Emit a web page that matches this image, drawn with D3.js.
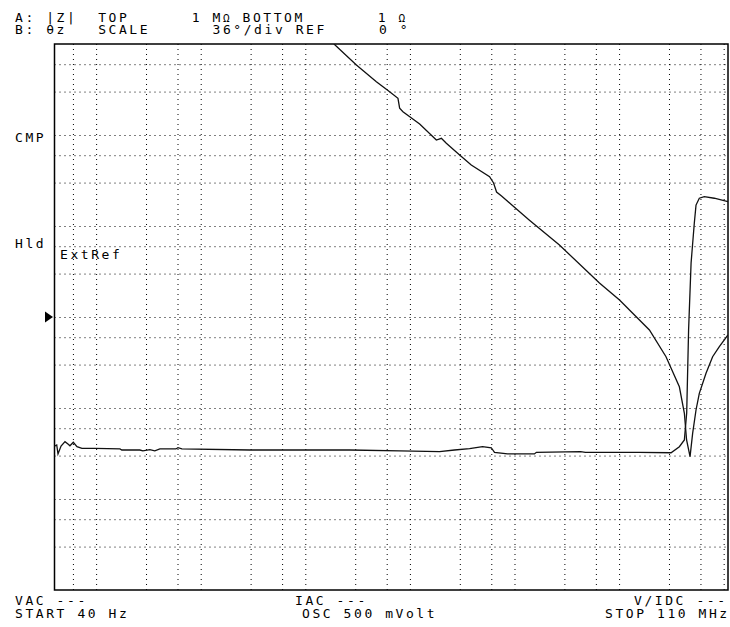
<!DOCTYPE html>
<html>
<head>
<meta charset="utf-8">
<script src="https://cdn.jsdelivr.net/npm/d3@7"></script>
<style>
body { margin: 0; background: #fff; }
text { font-family: "DejaVu Sans Mono", monospace; font-size: 13px; fill: #000; letter-spacing: 2.57px; white-space: pre; }
</style>
</head>
<body>
<div id="chart"></div>
<script>
// trace A: |Z| (ohm) vs frequency (Hz)
const freqZ = [18.8e3, 30.8e3, 47.8e3, 64.0e3, 76.9e3, 79.8e3, 85.8e3, 124e3, 179e3, 200e3,
  223e3, 299e3, 386e3, 578e3, 631e3, 674e3, 752e3, 1.39e6, 2.69e6, 6.49e6,
  10.1e6, 13.5e6, 19.5e6, 28.1e6, 37.7e6, 42.1e6, 44.2e6, 47.7e6, 50.5e6, 54.4e6,
  58.5e6, 67.8e6, 78.4e6, 90.9e6, 110e6];
const magZ = [1e6, 588e3, 385e3, 299e3, 253e3, 197e3, 180e3, 132e3, 88.1e3, 92e3,
  81.1e3, 60.3e3, 46.8e3, 34.8e3, 29.7e3, 23.6e3, 21.4e3, 11.6e3, 6.18e3, 2.36e3,
  1.54e3, 1.10e3, 720, 366, 171, 87.5, 44.5, 29.2, 52.7, 95.1,
  145, 241, 366, 472, 634];

// trace B: theta z (deg) vs frequency (Hz)
const freqP = [40, 42, 43.2, 46.2, 50.4, 53.8, 56.2, 60.5, 65.6, 73.2,
  97.5, 169, 176, 262, 280, 327, 364, 407, 579, 606,
  661, 2.95e3, 26.6e3, 79.8e3, 192e3, 267e3, 372e3, 495e3, 600e3, 644e3,
  859e3, 1.55e6, 1.62e6, 4.28e6, 4.77e6, 15.6e6, 31.4e6, 37.7e6, 42.1e6, 44.3e6,
  46.2e6, 48.8e6, 52.4e6, 54.4e6, 58.5e6, 65.3e6, 81.3e6, 110e6];
const phase = [-85.1, -84.4, -90.3, -85.1, -82.2, -83.7, -84.9, -82.6, -85.5, -86.6,
  -86.6, -87.0, -87.7, -87.7, -88.3, -87.5, -88.3, -87.0, -87.0, -86.2,
  -87.0, -87.7, -87.7, -88.3, -88.8, -87.7, -86.8, -85.5, -86.2, -89.2,
  -90.3, -90.3, -89.2, -88.7, -89.2, -89.2, -89.5, -85.5, -81.1, -63.3,
  -8.6, 35.6, 62.0, 73.8, 78.3, 79.3, 78.3, 76.0];

// grid
const gridFreqs = [60, 100, 300, 600, 1e3, 3e3, 6e3, 1e4, 3e4, 6e4, 1e5, 3e5, 6e5,
  1e6, 3e6, 6e6, 1e7, 3e7, 6e7, 1e8];
const gridOhms = [6e5, 3e5, 1e5, 6e4, 3e4, 1e4, 6e3, 3e3, 1e3, 600, 300, 100, 60, 30, 10, 6, 3];

const fStart = 40, fStop = 110e6;
const zTop = 1e6, zBottom = 1;
const phScale = 36, phRef = 0;

const W = 730, H = 627;
const pLeft = 54.5, pRight = 728, pTop = 44, pBottom = 590;

const svg = d3.select("#chart").append("svg")
  .attr("width", W).attr("height", H);

svg.append("rect").attr("width", W).attr("height", H).attr("fill", "#fff");

const x = d3.scaleLog().domain([fStart, fStop]).range([pLeft, pRight]);
const yZ = d3.scaleLog().domain([zBottom, zTop]).range([pBottom, pTop]);
const yP = d3.scaleLinear().domain([phRef - 5 * phScale, phRef + 5 * phScale]).range([pBottom, pTop]);

// dotted grid from axes
svg.append("g")
  .attr("transform", `translate(0,${pBottom})`)
  .call(d3.axisBottom(x).tickValues(gridFreqs).tickSize(-(pBottom - pTop)).tickFormat(""))
  .call(g => g.select(".domain").remove())
  .selectAll("line")
  .attr("stroke", "#000").attr("stroke-dasharray", "1 4");

svg.append("g")
  .attr("transform", `translate(${pLeft},0)`)
  .call(d3.axisLeft(yZ).tickValues(gridOhms).tickSize(-(pRight - pLeft)).tickFormat(""))
  .call(g => g.select(".domain").remove())
  .selectAll("line")
  .attr("stroke", "#000").attr("stroke-dasharray", "1 4");

// frame
svg.append("rect")
  .attr("x", pLeft).attr("y", pTop)
  .attr("width", pRight - pLeft).attr("height", pBottom - pTop)
  .attr("fill", "none").attr("stroke", "#000").attr("stroke-width", 1.5);

svg.append("clipPath").attr("id", "plot")
  .append("rect").attr("x", pLeft).attr("y", pTop)
  .attr("width", pRight - pLeft).attr("height", pBottom - pTop);

const lineZ = d3.line().x(d => x(d[0])).y(d => yZ(d[1]));
const lineP = d3.line().x(d => x(d[0])).y(d => yP(d[1]));

svg.append("path")
  .datum(freqZ.map((f, i) => [f, magZ[i]]))
  .attr("clip-path", "url(#plot)")
  .attr("d", lineZ)
  .attr("fill", "none").attr("stroke", "#111").attr("stroke-width", 1.3);

svg.append("path")
  .datum(freqP.map((f, i) => [f, phase[i]]))
  .attr("clip-path", "url(#plot)")
  .attr("d", lineP)
  .attr("fill", "none").attr("stroke", "#111").attr("stroke-width", 1.3);

// reference marker
const r0 = yP(phRef);
svg.append("path")
  .attr("d", `M45,${r0 - 5.5}L53,${r0}L45,${r0 + 5.5}Z`)
  .attr("fill", "#000");

// texts
const labels = [
  { t: "A: |Z|  TOP      1 M", x: 15, y: 22, tail: "Ω", rest: " BOTTOM       1 ", end: "Ω" },
  { t: "B: θz   SCALE      36°/div REF     0 °", x: 15, y: 34 },
  { t: "CMP", x: 15, y: 142 },
  { t: "Hld", x: 15, y: 248 },
  { t: "ExtRef", x: 60, y: 259 },
  { t: "VAC ---", x: 15, y: 605 },
  { t: "START 40 Hz", x: 15, y: 618 },
  { t: "IAC ---", x: 295, y: 605 },
  { t: "OSC 500 mVolt", x: 302, y: 618 },
  { t: "V/IDC ---", x: 634, y: 605 },
  { t: "STOP 110 MHz", x: 605, y: 618 }
];

labels.forEach(l => {
  const txt = svg.append("text").attr("x", l.x).attr("y", l.y).attr("xml:space", "preserve");
  if (l.tail) {
    txt.append("tspan").text(l.t);
    txt.append("tspan").attr("font-size", "11px").text(l.tail);
    txt.append("tspan").text(l.rest);
    txt.append("tspan").attr("font-size", "11px").text(l.end);
  } else {
    txt.text(l.t);
  }
});
</script>
</body>
</html>
